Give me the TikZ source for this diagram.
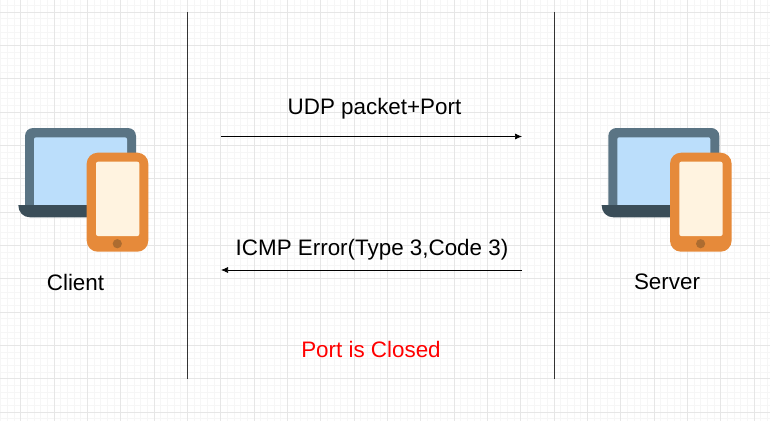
\documentclass[tikz,border=0pt]{standalone}
\usepackage{fontspec}
\setmainfont{Liberation Sans}
\definecolor{gridminor}{HTML}{F6F6F6}
\definecolor{gridmajor}{HTML}{E6E6E6}
\definecolor{laptopframe}{HTML}{5A7484}
\definecolor{laptopbase}{HTML}{3A4D58}
\definecolor{laptopscreen}{HTML}{BBDEFB}
\definecolor{phonebody}{HTML}{E68A3A}
\definecolor{phonescreen}{HTML}{FFF3E0}
\definecolor{phonebutton}{HTML}{AD6C30}
\definecolor{lifeline}{HTML}{333333}
\tikzset{
  x=1pt,y=-1pt,
  lifelinestyle/.style={draw=lifeline,line width=0.9pt},
  msgstyle/.style={draw=black,line width=0.7pt,-{Latex[length=7pt,width=6pt]}},
  msglabel/.style={font=\fontsize{22.4}{26}\selectfont,text=black,inner sep=0pt},
  devicelabel/.style={font=\fontsize{22.4}{26}\selectfont,text=black,inner sep=0pt},
  warnlabel/.style={font=\fontsize{22.4}{26}\selectfont,text=red,inner sep=0pt},
  device/.pic={
    \fill[laptopframe,rounded corners=8pt] (25,128) rectangle (136,215);
    \fill[laptopscreen,rounded corners=2pt] (34,137.3) rectangle (127,215);
    \fill[laptopbase] (18.3,205) -- (130,205) -- (130,217.3) -- (30,217.3) .. controls (23,217.3) and (18.3,212) .. cycle;
    \fill[phonebody,rounded corners=11pt] (86.7,152.7) rectangle (148.3,251.7);
    \fill[phonescreen,rounded corners=2pt] (96,161.7) rectangle (139.3,236);
    \fill[phonebutton] (117.3,243.7) circle[radius=4.6];
  },
}
\usetikzlibrary{arrows.meta}
\begin{document}
\begin{tikzpicture}
\useasboundingbox (0,0) rectangle (770,421);
\fill[white] (0,0) rectangle (770,421);
% grid
\foreach \k in {0,...,116}{
  \draw[gridminor,line width=0.7pt] ({0.7+6.6667*\k},0) -- ({0.7+6.6667*\k},421);}
\foreach \k in {0,...,63}{
  \draw[gridminor,line width=0.7pt] (0,{5.33+6.6667*\k}) -- (770,{5.33+6.6667*\k});}
\foreach \k in {0,...,23}{
  \draw[gridmajor,line width=0.8pt] ({20.7+33.333*\k},0) -- ({20.7+33.333*\k},421);}
\foreach \k in {0,...,12}{
  \draw[gridmajor,line width=0.8pt] (0,{12+33.333*\k}) -- (770,{12+33.333*\k});}
% lifelines
\coordinate (ltop) at (187.5,12);
\coordinate (lbot) at (187.5,379);
\coordinate (rtop) at (554.5,12);
\coordinate (rbot) at (554.5,379);
\draw[lifelinestyle] (ltop) -- (lbot);
\draw[lifelinestyle] (rtop) -- (rbot);
% icons
\pic at (0,0) {device};
\pic at (583.3,0) {device};
% messages
\coordinate (a1) at (221,136.5);
\coordinate (b1) at (522,136.5);
\coordinate (b2) at (522,270);
\coordinate (a2) at (221,270);
\draw[msgstyle] (a1) -- (b1);
\draw[msgstyle] (b2) -- (a2);
% labels
\node[devicelabel] (client) at (75.5,282) {Client};
\node[devicelabel] (server) at (667,282) {Server};
\node[msglabel] (udp) at (374.5,108.5) {UDP packet+Port};
\node[msglabel] (icmp) at (372,250) {ICMP Error(Type 3,Code 3)};
\node[warnlabel] (closed) at (371,349) {Port is Closed};
\end{tikzpicture}
\end{document}
